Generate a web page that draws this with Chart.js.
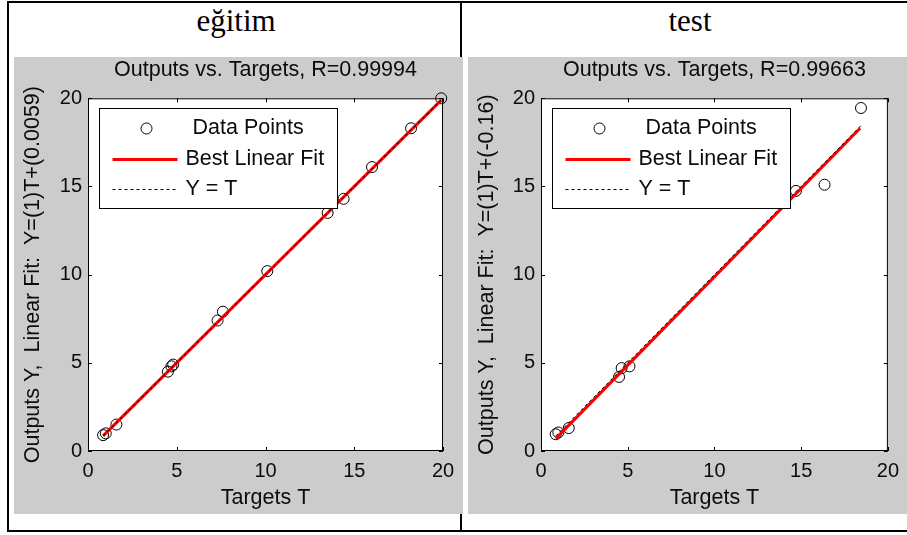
<!DOCTYPE html>
<html>
<head>
<meta charset="utf-8">
<script src="https://cdn.jsdelivr.net/npm/chart.js@4.4.1/dist/chart.umd.min.js"></script>
<style>
body { margin: 0; background: #fff; width: 907px; height: 535px; overflow: hidden; position: relative; }
.rule { position: absolute; background: #000; }
.head { position: absolute; top: 4px; width: 200px; font: 31px "Liberation Serif", "Times New Roman", serif; line-height: 34px; color: #000; text-align: center; }
canvas { position: absolute; background: #cccccc; }
</style>
</head>
<body>
<div class="rule" style="left:7px;top:1px;width:900px;height:2px"></div>
<div class="rule" style="left:7px;top:530px;width:900px;height:2px"></div>
<div class="rule" style="left:7px;top:1px;width:2px;height:531px"></div>
<div class="rule" style="left:460px;top:1px;width:2px;height:531px"></div>
<div class="head" style="left:136px">eğitim</div>
<div class="head" style="left:590px">test</div>
<canvas id="egitim" width="449" height="457" style="left:14px;top:57px"></canvas>
<canvas id="test" width="439" height="457" style="left:468px;top:57px"></canvas>
<script>
// legend entries and axis ticks
var categories = ['Data Points', 'Best Linear Fit', 'Y = T'];
var tickValues = [0, 5, 10, 15, 20];

// eğitim (training) panel
var trainTargets = [0.85, 1.0, 1.6, 4.5, 4.7, 4.8, 7.3, 7.6, 10.1, 13.5, 14.4, 16.0, 18.2, 19.9];
var trainOutputs = [0.9, 1.0, 1.5, 4.5, 4.8, 4.9, 7.4, 7.9, 10.2, 13.5, 14.3, 16.1, 18.3, 20.0];
var trainFitT = [0.85, 19.9];
var trainFitY = [0.86, 19.9];
var trainIdent = [0.85, 19.9];

// test panel
var testTargets = [0.85, 1.0, 1.6, 4.5, 4.65, 5.1, 14.7, 16.35, 18.45];
var testOutputs = [0.95, 1.05, 1.3, 4.2, 4.7, 4.8, 14.75, 15.1, 19.45];
var testFitT = [0.85, 18.4];
var testFitY = [0.7, 18.3];
var testIdent = [0.85, 18.45];

var FONT = '"Liberation Sans", Arial, Helvetica, sans-serif';
var INK = '#0c0c0c';
var TEXT_SIZE = 21.5;
var TICK_SIZE = 20;

function pts(xs, ys) {
    return xs.map(function(x, i) { return {x: x, y: ys[i]}; });
}

// white axes box, inward ticks on all four sides, y label and the boxed legend
var plotFrame = {
    id: 'plotFrame',
    beforeDraw: function(chart) {
        var a = chart.chartArea, ctx = chart.ctx;
        ctx.save();
        ctx.fillStyle = '#fff';
        ctx.fillRect(a.left, a.top, a.right - a.left, a.bottom - a.top);
        ctx.restore();
    },
    afterDraw: function(chart, args, opts) {
        var a = chart.chartArea, ctx = chart.ctx;
        var sx = chart.scales.x, sy = chart.scales.y;
        ctx.save();
        ctx.strokeStyle = '#000';
        ctx.lineWidth = 1;
        ctx.strokeRect(a.left + 0.5, a.top + 0.5, a.right - a.left - 1, a.bottom - a.top - 1);
        ctx.beginPath();
        sx.ticks.forEach(function(t) {
            var px = Math.round(sx.getPixelForValue(t.value)) + 0.5;
            ctx.moveTo(px, a.bottom); ctx.lineTo(px, a.bottom - 4);
            ctx.moveTo(px, a.top); ctx.lineTo(px, a.top + 4);
        });
        sy.ticks.forEach(function(t) {
            var py = Math.round(sy.getPixelForValue(t.value)) + 0.5;
            ctx.moveTo(a.left, py); ctx.lineTo(a.left + 4, py);
            ctx.moveTo(a.right, py); ctx.lineTo(a.right - 4, py);
        });
        ctx.stroke();

        // rotated y label, allowed to run past the axes height like the original
        ctx.font = TEXT_SIZE + 'px ' + FONT;
        ctx.fillStyle = INK;
        ctx.textAlign = 'center';
        ctx.textBaseline = 'middle';
        ctx.save();
        ctx.translate(sy.left + 19, (a.top + a.bottom) / 2);
        ctx.rotate(-Math.PI / 2);
        ctx.fillText(opts.yTitle, 0, 0);
        ctx.restore();

        // legend
        var bx = Math.round(a.left + 11) + 0.5, by = Math.round(a.top + 10) + 0.5;
        var bw = 238, bh = 100;
        ctx.fillStyle = '#fff';
        ctx.fillRect(bx, by, bw, bh);
        ctx.strokeRect(bx, by, bw, bh);
        var rows = [20, 51, 81];
        ctx.textAlign = 'left';
        ctx.fillStyle = INK;
        var ds = chart.data.datasets;
        ctx.beginPath();
        ctx.arc(bx + 47, by + rows[0], 5.5, 0, Math.PI * 2);
        ctx.strokeStyle = '#000';
        ctx.lineWidth = 1;
        ctx.stroke();
        ctx.fillText(ds[0].label, bx + 93, by + rows[0]);
        ctx.beginPath();
        ctx.moveTo(bx + 13, by + rows[1]); ctx.lineTo(bx + 78, by + rows[1]);
        ctx.strokeStyle = '#ff0000';
        ctx.lineWidth = 3;
        ctx.stroke();
        ctx.fillText(ds[1].label, bx + 86, by + rows[1]);
        ctx.beginPath();
        ctx.setLineDash([3, 3]);
        ctx.moveTo(bx + 13, by + rows[2]); ctx.lineTo(bx + 78, by + rows[2]);
        ctx.strokeStyle = '#000';
        ctx.lineWidth = 1;
        ctx.stroke();
        ctx.setLineDash([]);
        ctx.fillText(ds[2].label, bx + 86, by + rows[2]);
        ctx.restore();
    }
};

function makeChart(id, title, yTitle, xs, ys, fitT, fitY, ident, yWidth, rightPad) {
    var tickFont = {family: FONT, size: TICK_SIZE};
    var textFont = {family: FONT, size: TEXT_SIZE, weight: 'normal'};
    return new Chart(document.getElementById(id), {
        type: 'scatter',
        data: {
            datasets: [
                {
                    label: categories[0],
                    data: pts(xs, ys),
                    pointStyle: 'circle',
                    pointRadius: 5.5,
                    pointBorderWidth: 1,
                    borderColor: '#000',
                    backgroundColor: 'rgba(0,0,0,0)',
                    order: 3,
                    clip: false
                },
                {
                    label: categories[1],
                    data: pts(fitT, fitY),
                    showLine: true,
                    borderColor: '#ff0000',
                    borderWidth: 3,
                    pointRadius: 0,
                    order: 2,
                    clip: false
                },
                {
                    label: categories[2],
                    data: pts(ident, ident),
                    showLine: true,
                    borderColor: '#000',
                    borderWidth: 1,
                    borderDash: [3, 3],
                    pointRadius: 0,
                    order: 1,
                    clip: false
                }
            ]
        },
        options: {
            responsive: false,
            animation: false,
            devicePixelRatio: 1,
            layout: {padding: {left: 0, top: 0, right: rightPad, bottom: 0}},
            plugins: {
                legend: {display: false},
                tooltip: {enabled: false},
                plotFrame: {yTitle: yTitle},
                title: {
                    display: true,
                    text: title,
                    color: INK,
                    font: textFont,
                    padding: {top: 0.5, bottom: 15},
                    fullSize: false
                }
            },
            scales: {
                x: {
                    type: 'linear',
                    min: tickValues[0],
                    max: tickValues[tickValues.length - 1],
                    grid: {display: false, drawTicks: false},
                    border: {display: false},
                    ticks: {stepSize: 5, color: INK, padding: 8, font: tickFont, maxRotation: 0},
                    title: {display: true, text: 'Targets T', color: INK, font: textFont, padding: {top: 0, bottom: 3}},
                    afterFit: function(s) { s.height = 63; }
                },
                y: {
                    type: 'linear',
                    min: tickValues[0],
                    max: tickValues[tickValues.length - 1],
                    grid: {display: false, drawTicks: false},
                    border: {display: false},
                    ticks: {stepSize: 5, color: INK, padding: 6, font: tickFont},
                    afterFit: function(s) { s.width = yWidth; }
                }
            }
        },
        plugins: [plotFrame]
    });
}

makeChart('egitim', 'Outputs vs. Targets, R=0.99994', 'Outputs Y,  Linear Fit:  Y=(1)T+(0.0059)',
    trainTargets, trainOutputs, trainFitT, trainFitY, trainIdent, 74, 20);
makeChart('test', 'Outputs vs. Targets, R=0.99663', 'Outputs Y,  Linear Fit:  Y=(1)T+(-0.16)',
    testTargets, testOutputs, testFitT, testFitY, testIdent, 73, 14);
</script>
</body>
</html>
